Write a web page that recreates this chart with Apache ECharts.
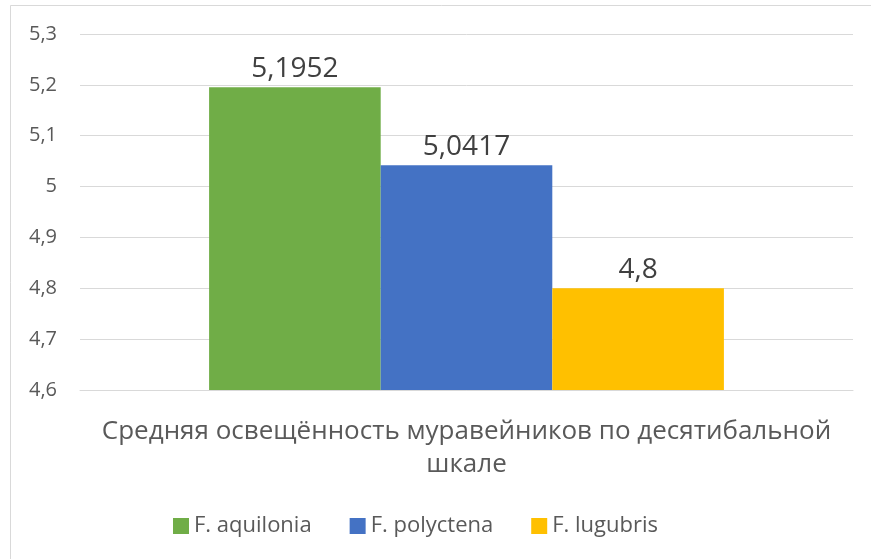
<!DOCTYPE html>
<html>
<head>
<meta charset="utf-8">
<script src="https://cdn.jsdelivr.net/npm/echarts@6/dist/echarts.min.js"></script>
<style>
  html, body { margin: 0; padding: 0; background: #fff; }
  #main { width: 871px; height: 559px; }
</style>
</head>
<body>
<div id="main"></div>
<script>
const categories = ['Средняя освещённость муравейников по десятибальной\nшкале'];
const seriesNames = ['F. aquilonia', 'F. polyctena', 'F. lugubris'];
const aquilonia = [5.1952];
const polyctena = [5.0417];
const lugubris = [4.8];
const colors = ['#70AD47', '#4472C4', '#FFC000'];

const font = 'Open Sans';
const comma = (v) => String(v).replace('.', ',');

const chart = echarts.init(document.getElementById('main'));

const makeSeries = (name, data, color) => ({
  name: name,
  type: 'bar',
  data: data,
  barGap: '0%',
  barCategoryGap: '33.4%',
  itemStyle: { color: color },
  label: {
    show: true,
    position: 'top',
    distance: 4,
    color: '#404040',
    fontSize: 28,
    fontFamily: font,
    formatter: (p) => comma(p.value)
  }
});

const option = {
  animation: false,
  backgroundColor: '#fff',
  graphic: [{
    type: 'rect',
    shape: { x: 10.5, y: 5.5, width: 900, height: 700 },
    style: { fill: 'none', stroke: '#d9d9d9', lineWidth: 1 },
    silent: true
  }],
  grid: { left: 80, right: 18, top: 34, bottom: 169 },
  legend: {
    data: seriesNames,
    top: 510,
    left: 168,
    icon: 'rect',
    itemWidth: 16,
    itemHeight: 16,
    itemGap: 38,
    textStyle: { color: '#595959', fontSize: 22, fontFamily: font }
  },
  xAxis: {
    type: 'category',
    data: categories,
    axisLine: { lineStyle: { color: '#d9d9d9', width: 1 } },
    axisTick: { show: false },
    axisLabel: {
      margin: 25,
      color: '#595959',
      fontSize: 26,
      lineHeight: 33,
      fontFamily: font
    }
  },
  yAxis: {
    type: 'value',
    min: 4.6,
    max: 5.3,
    interval: 0.1,
    axisLine: { show: false },
    axisTick: { show: false },
    splitLine: { lineStyle: { color: '#d9d9d9', width: 1 } },
    axisLabel: {
      margin: 23,
      color: '#595959',
      fontSize: 20,
      fontFamily: font,
      formatter: (v) => comma(Number(v.toFixed(1)))
    }
  },
  series: [
    makeSeries(seriesNames[0], aquilonia, colors[0]),
    makeSeries(seriesNames[1], polyctena, colors[1]),
    makeSeries(seriesNames[2], lugubris, colors[2])
  ]
};

chart.setOption(option);
</script>
</body>
</html>
